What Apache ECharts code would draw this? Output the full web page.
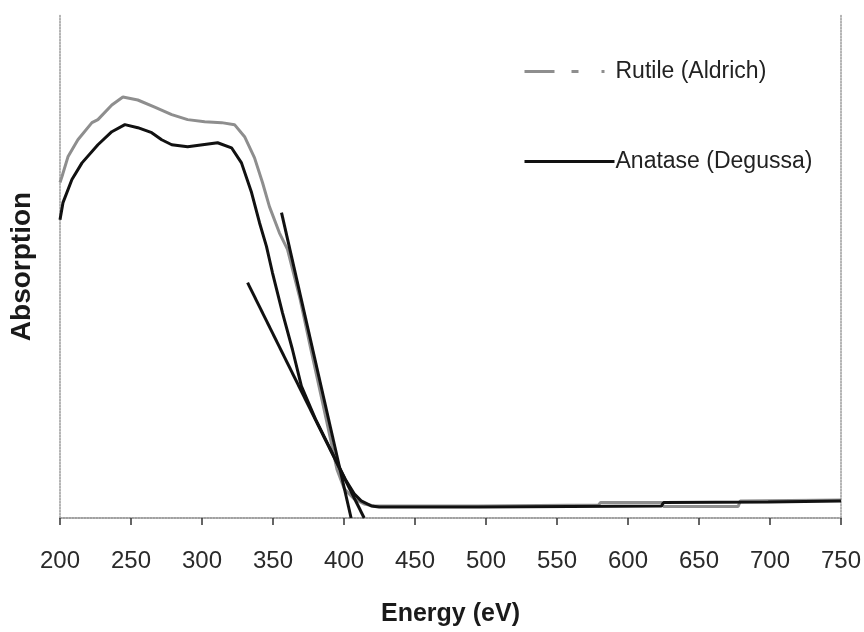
<!DOCTYPE html>
<html>
<head>
<meta charset="utf-8">
<script src="https://cdn.jsdelivr.net/npm/echarts@6/dist/echarts.min.js"></script>
<style>
  html, body { margin: 0; padding: 0; background: #fff; }
  #chart { width: 864px; height: 632px; }
</style>
</head>
<body>
<div id="chart"></div>
<script>
// UV-vis absorption edge (y is unitless, 0..100)
const xTicks = [200, 250, 300, 350, 400, 450, 500, 550, 600, 650, 700, 750];

const rutileEnergy = [200.0, 201.4, 205.6, 212.6, 222.5, 226.7, 236.5, 244.3, 254.8, 266.7, 278.7, 289.9,
  301.9, 313.8, 322.9, 330.0, 337.0, 342.6, 347.5, 354.5, 360.2, 369.1, 376.7, 384.4, 390.5, 395.0,
  400.2, 407.2, 414.2, 421.3, 495.0, 496.4, 579.3, 580.7, 623.6, 625.0, 677.6, 679.1, 750];
const rutileAbs = [66.7, 67.9, 71.8, 75.2, 78.6, 79.2, 82.1, 83.7, 83.1, 81.7, 80.2, 79.2,
  78.8, 78.6, 78.2, 75.8, 71.6, 66.7, 61.9, 56.7, 53.4, 43.5, 33.5, 23.6, 15.7, 9.7,
  5.8, 3.8, 2.8, 2.4, 2.4, 2.6, 2.6, 3.1, 3.1, 2.3, 2.3, 3.4, 3.6];

const anataseEnergy = [200.0, 202.1, 208.4, 215.5, 226.7, 236.5, 245.7, 254.8, 264.6, 271.6, 278.7, 289.9,
  311.0, 320.8, 327.8, 334.9, 340.5, 345.4, 349.6, 356.6, 363.7, 370.0, 380.0, 390.4, 400.9,
  407.2, 412.1, 419.2, 424.8, 495.0, 496.4, 623.6, 625.0, 698.7, 700.1, 750];
const anataseAbs = [59.3, 62.7, 67.3, 70.6, 74.2, 76.8, 78.2, 77.6, 76.6, 75.2, 74.2, 73.8,
  74.6, 73.6, 70.6, 64.7, 58.7, 54.0, 48.8, 40.9, 33.5, 26.2, 19.6, 13.7, 7.7,
  4.8, 3.4, 2.4, 2.2, 2.2, 2.4, 2.4, 3.1, 3.2, 3.3, 3.4];

// band-edge extrapolation lines
const tangent1Energy = [332.1, 414.2];
const tangent1Abs = [46.8, 0];
const tangent2Energy = [356.0, 405.0];
const tangent2Abs = [60.7, 0];

const RUTILE_GREY = "#8e8e8e";
const INK = "#111111";
const FRAME = "#9a9a9a";
const SANS = "'Liberation Sans', Arial, sans-serif";

const pairs = (xs, ys) => xs.map((x, i) => [x, ys[i]]);

const chart = echarts.init(document.getElementById("chart"), null, { renderer: "canvas" });

const frameLine = { show: true, lineStyle: { color: FRAME, width: 1.5, type: "dotted" } };
const legendText = { fontFamily: SANS, fontSize: 23, color: "#222", padding: [0, 0, 0, -4] };

chart.setOption({
  backgroundColor: "#ffffff",
  animation: false,
  grid: { left: 60, right: 19, top: 15, bottom: 113, containLabel: false },
  legend: [
    {
      left: 518, top: 55,
      itemWidth: 90, itemHeight: 26, itemGap: 0,
      data: [{
        name: "Rutile (Aldrich)",
        itemStyle: { opacity: 0 },
        lineStyle: { type: [30, 17, 7, 23, 3, 10], width: 3, color: RUTILE_GREY },
      }],
      textStyle: legendText,
    },
    {
      left: 518, top: 145,
      itemWidth: 90, itemHeight: 26, itemGap: 0,
      data: [{
        name: "Anatase (Degussa)",
        itemStyle: { opacity: 0 },
        lineStyle: { width: 3, color: INK },
      }],
      textStyle: legendText,
    },
  ],
  xAxis: [
    {
      type: "value",
      position: "bottom",
      min: 200, max: 750, interval: 50,
      name: "Energy (eV)",
      nameLocation: "middle",
      nameGap: 84,
      nameTextStyle: { fontFamily: SANS, fontSize: 25, fontWeight: "bold", color: "#1a1a1a" },
      axisLine: frameLine,
      axisTick: { show: true, inside: false, length: 7, lineStyle: { color: "#333", width: 1.5 } },
      axisLabel: {
        fontFamily: SANS, fontSize: 24, color: "#2a2a2a", margin: 31,
        formatter: (v) => (xTicks.includes(v) ? String(v) : ""),
      },
      splitLine: { show: false },
    },
    {
      type: "value",
      position: "top",
      min: 200, max: 750,
      axisLine: frameLine,
      axisTick: { show: false },
      axisLabel: { show: false },
      splitLine: { show: false },
    },
  ],
  yAxis: [
    {
      type: "value",
      position: "left",
      min: 0, max: 100,
      name: "Absorption",
      nameLocation: "middle",
      nameRotate: 90,
      nameGap: 24,
      nameTextStyle: { fontFamily: SANS, fontSize: 28, fontWeight: "bold", color: "#1a1a1a" },
      axisLine: frameLine,
      axisTick: { show: false },
      axisLabel: { show: false },
      splitLine: { show: false },
    },
    {
      type: "value",
      position: "right",
      min: 0, max: 100,
      axisLine: frameLine,
      axisTick: { show: false },
      axisLabel: { show: false },
      splitLine: { show: false },
    },
  ],
  series: [
    {
      name: "Rutile (Aldrich)",
      type: "line",
      data: pairs(rutileEnergy, rutileAbs),
      symbol: "none",
      lineStyle: { color: RUTILE_GREY, width: 3 },
      itemStyle: { color: RUTILE_GREY },
    },
    {
      name: "Anatase (Degussa)",
      type: "line",
      data: pairs(anataseEnergy, anataseAbs),
      symbol: "none",
      lineStyle: { color: INK, width: 3 },
      itemStyle: { color: INK },
    },
    {
      name: "edge-1",
      type: "line",
      data: pairs(tangent1Energy, tangent1Abs),
      symbol: "none",
      lineStyle: { color: INK, width: 3 },
    },
    {
      name: "edge-2",
      type: "line",
      data: pairs(tangent2Energy, tangent2Abs),
      symbol: "none",
      lineStyle: { color: INK, width: 3 },
    },
  ],
});
</script>
</body>
</html>
